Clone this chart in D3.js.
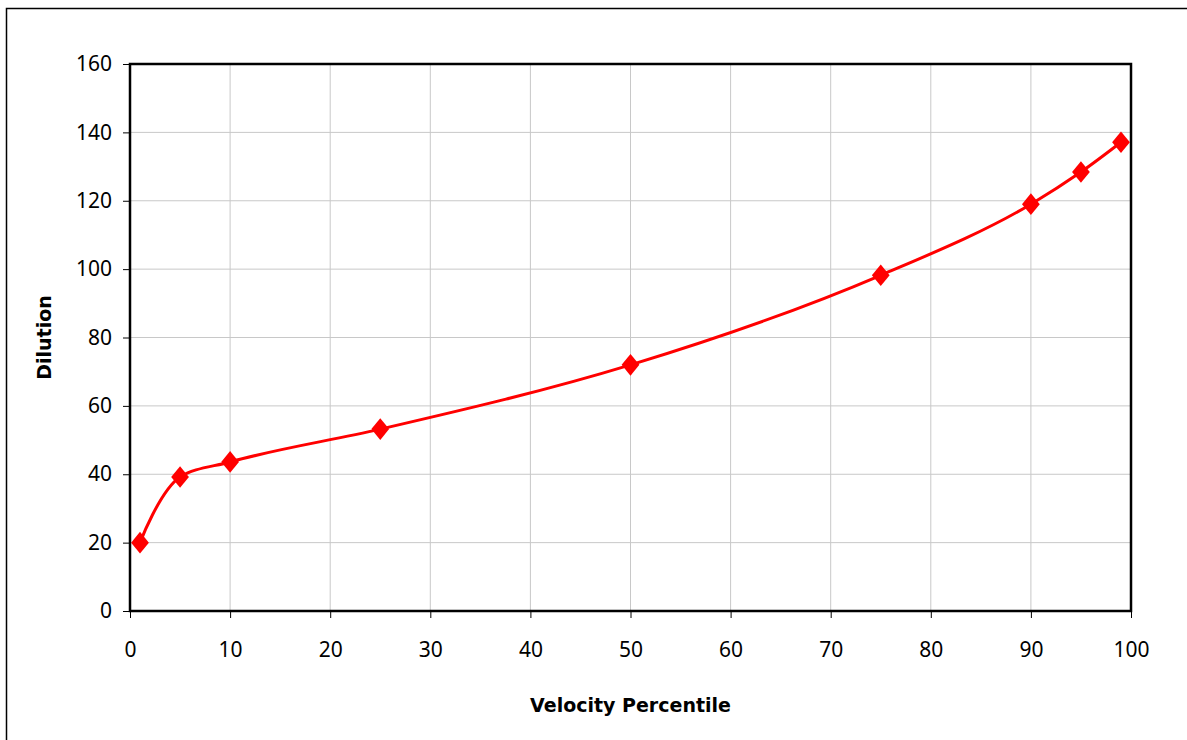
<!DOCTYPE html>
<html>
<head>
<meta charset="utf-8">
<script src="https://cdn.jsdelivr.net/npm/d3@7"></script>
<style>
  html, body { margin: 0; padding: 0; background: #fff; }
  svg { display: block; }
</style>
</head>
<body>
<svg id="chart" width="1187" height="740"></svg>
<script>
// Dilution at each velocity percentile
const percentiles = [1, 5, 10, 25, 50, 75, 90, 95, 99];
const dilution = [20, 39.2, 43.6, 53.2, 72, 98.2, 119, 128.4, 137.1];
const xTicks = [0, 10, 20, 30, 40, 50, 60, 70, 80, 90, 100];
const yTicks = [0, 20, 40, 60, 80, 100, 120, 140, 160];

const svg = d3.select("#chart");
const plotLeft = 130, plotRight = 1131, plotTop = 64, plotBottom = 611;
const tickFont = "Tahoma, 'Noto Sans', 'Open Sans', sans-serif";
const titleFont = "Tahoma, 'DejaVu Sans', sans-serif";

// outer frame
svg.append("rect")
  .attr("x", 6.5).attr("y", 8.5)
  .attr("width", 1200).attr("height", 800)
  .attr("fill", "#fff").attr("stroke", "#000").attr("stroke-width", 1.5);

const x = d3.scaleLinear().domain([0, 100]).range([plotLeft, plotRight]);
const y = d3.scaleLinear().domain([0, 160]).range([plotBottom, plotTop]);

// gridlines
svg.append("g")
  .selectAll("line").data(xTicks.slice(1, -1)).join("line")
  .attr("x1", d => x(d)).attr("x2", d => x(d))
  .attr("y1", plotTop).attr("y2", plotBottom)
  .attr("stroke", "#c8c8c8").attr("stroke-width", 1);
svg.append("g")
  .selectAll("line").data(yTicks.slice(1, -1)).join("line")
  .attr("x1", plotLeft).attr("x2", plotRight)
  .attr("y1", d => y(d)).attr("y2", d => y(d))
  .attr("stroke", "#c8c8c8").attr("stroke-width", 1);

// plot area box
svg.append("rect")
  .attr("x", plotLeft).attr("y", plotTop)
  .attr("width", plotRight - plotLeft).attr("height", plotBottom - plotTop)
  .attr("fill", "none").attr("stroke", "#000").attr("stroke-width", 2.5);

// axes
const xAxis = svg.append("g")
  .attr("transform", `translate(0,${plotBottom})`)
  .call(d3.axisBottom(x).tickValues(xTicks).tickSize(7).tickPadding(24).tickFormat(d3.format("d")));
const yAxis = svg.append("g")
  .attr("transform", `translate(${plotLeft},0)`)
  .call(d3.axisLeft(y).tickValues(yTicks).tickSize(7).tickPadding(11).tickFormat(d3.format("d")));

[xAxis, yAxis].forEach(g => {
  g.select(".domain").remove();
  g.selectAll(".tick line").attr("stroke", "#000").attr("stroke-width", 1);
  g.selectAll(".tick text")
    .attr("fill", "#000")
    .style("font-family", tickFont)
    .style("font-size", "21px");
});

// smoothed series line
const line = d3.line()
  .x((d, i) => x(percentiles[i]))
  .y(d => y(d))
  .curve(d3.curveCatmullRom.alpha(1));

svg.append("path")
  .datum(dilution)
  .attr("d", line)
  .attr("fill", "none")
  .attr("stroke", "#ff0000")
  .attr("stroke-width", 3);

// diamond markers
const diamond = d3.symbol().type(d3.symbolDiamond).size(150);
svg.append("g")
  .selectAll("path").data(dilution).join("path")
  .attr("d", diamond)
  .attr("transform", (d, i) => `translate(${x(percentiles[i])},${y(d)}) scale(1.35,0.95)`)
  .attr("fill", "#ff0000");

// axis titles
svg.append("text")
  .attr("x", (plotLeft + plotRight) / 2).attr("y", 712)
  .attr("text-anchor", "middle")
  .style("font-family", titleFont).style("font-size", "19px").style("font-weight", "bold")
  .text("Velocity Percentile");

svg.append("text")
  .attr("transform", `translate(51,${(plotTop + plotBottom) / 2}) rotate(-90)`)
  .attr("text-anchor", "middle")
  .style("font-family", titleFont).style("font-size", "19px").style("font-weight", "bold")
  .text("Dilution");
</script>
</body>
</html>
